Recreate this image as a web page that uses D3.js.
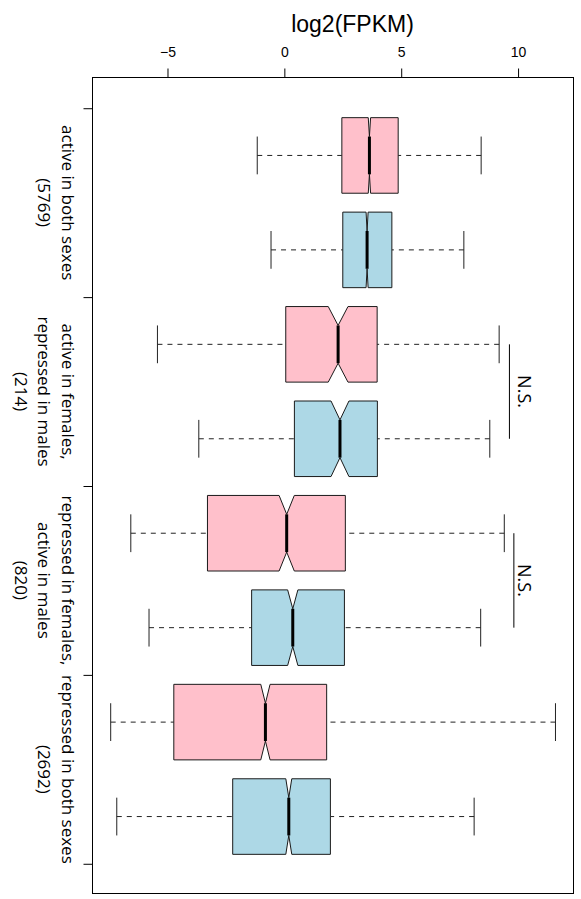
<!DOCTYPE html>
<html>
<head>
<meta charset="utf-8">
<script src="https://cdn.jsdelivr.net/npm/d3@7"></script>
<style>
  html, body { margin: 0; padding: 0; background: #fff; }
  svg { display: block; }
</style>
</head>
<body>
<script>
// Expression (log2 FPKM) of gene groups, female vs male, drawn as notched boxplots.
const groupLabels = [
  ["active in both sexes"],
  ["active in females,", "repressed in males"],
  ["repressed in females,", "active in males"],
  ["repressed in both sexes"]
];
const groupCounts = [5769, 214, 820, 2692];

// five-number summaries: lower whisker, Q1, median, Q3, upper whisker
const femaleLo  = [-1.16, -5.43, -6.57, -7.43];
const femaleQ1  = [ 2.46,  0.06, -3.29, -4.73];
const femaleMed = [ 3.64,  2.30,  0.10, -0.81];
const femaleQ3  = [ 4.87,  3.97,  2.61,  1.81];
const femaleHi  = [ 8.42,  9.19,  9.41, 11.60];

const maleLo  = [-0.57, -3.66, -5.79, -7.17];
const maleQ1  = [ 2.50,  0.43, -1.40, -2.21];
const maleMed = [ 3.54,  2.38,  0.36,  0.19];
const maleQ3  = [ 4.60,  3.98,  2.57,  1.97];
const maleHi  = [ 7.68,  8.79,  8.40,  8.12];

const sexColors = ["#FFC0CB", "#ADD8E6"];   // pink, lightblue
const xTicks = [-5, 0, 5, 10];

// "not significant" brackets: group index, bracket position, label position (log2 FPKM)
const nsGroups = [1, 2];
const nsLineX  = [9.63, 9.82];
const nsTextX  = [10.0, 10.0];

const W = 581, H = 899;
const plot = { left: 92, right: 573, top: 78, bottom: 894 };

const svg = d3.select("body").append("svg")
  .attr("width", W).attr("height", H)
  .attr("viewBox", `0 0 ${W} ${H}`);
svg.append("rect").attr("width", W).attr("height", H).attr("fill", "#fff");

// value axis runs horizontally, box positions (1..8) run down the page
const x = d3.scaleLinear().domain([-8.23, 12.35]).range([plot.left, plot.right]);
const y = d3.scaleLinear().domain([0.18, 8.82]).range([plot.top, plot.bottom]);

// assemble one record per box
const boxes = [];
groupCounts.forEach((n, g) => {
  boxes.push({ at: 2 * g + 1, n, fill: sexColors[0],
    lo: femaleLo[g], q1: femaleQ1[g], med: femaleMed[g], q3: femaleQ3[g], hi: femaleHi[g] });
  boxes.push({ at: 2 * g + 2, n, fill: sexColors[1],
    lo: maleLo[g], q1: maleQ1[g], med: maleMed[g], q3: maleQ3[g], hi: maleHi[g] });
});

const boxHalf = 0.4;     // half box thickness, in position units
const capHalf = 0.2;     // half whisker-cap length

const g = svg.append("g");

boxes.forEach(b => {
  const yc = y(b.at);
  const yTop = y(b.at - boxHalf), yBot = y(b.at + boxHalf);
  const waist = (yBot - yTop) / 4;
  const notch = 1.58 * (b.q3 - b.q1) / Math.sqrt(b.n);

  // whiskers, drawn from cap towards the box
  [[b.lo, b.q1], [b.hi, b.q3]].forEach(([from, to]) => {
    g.append("line")
      .attr("x1", x(from)).attr("x2", x(to))
      .attr("y1", yc).attr("y2", yc)
      .attr("stroke", "#222").attr("stroke-width", 1)
      .attr("stroke-dasharray", "5,5");
    g.append("line")
      .attr("x1", x(from)).attr("x2", x(from))
      .attr("y1", y(b.at - capHalf)).attr("y2", y(b.at + capHalf))
      .attr("stroke", "#222").attr("stroke-width", 1);
  });

  // notched box
  const pts = [
    [x(b.q1), yTop], [x(b.med - notch), yTop], [x(b.med), yTop + waist],
    [x(b.med + notch), yTop], [x(b.q3), yTop], [x(b.q3), yBot],
    [x(b.med + notch), yBot], [x(b.med), yBot - waist], [x(b.med - notch), yBot],
    [x(b.q1), yBot]
  ];
  g.append("path")
    .attr("d", d3.line()(pts) + "Z")
    .attr("fill", b.fill)
    .attr("stroke", "#1a1a1a").attr("stroke-width", 1);

  // median
  g.append("line")
    .attr("x1", x(b.med)).attr("x2", x(b.med))
    .attr("y1", yTop + waist).attr("y2", yBot - waist)
    .attr("stroke", "#000").attr("stroke-width", 3);
});

// plot frame
svg.append("rect")
  .attr("x", plot.left + 0.5).attr("y", plot.top - 0.5)
  .attr("width", plot.right - plot.left).attr("height", plot.bottom - plot.top)
  .attr("fill", "none").attr("stroke", "#000").attr("stroke-width", 1);

// top value axis
const xAxis = d3.axisTop(x).tickValues(xTicks).tickSize(9).tickPadding(12)
  .tickFormat(d3.format("d"));
const xa = svg.append("g").attr("transform", `translate(0,${plot.top - 0.5})`).call(xAxis);
xa.select(".domain").remove();
xa.selectAll(".tick line").attr("stroke", "#000");
xa.selectAll(".tick text")
  .attr("font-family", "'Liberation Sans', Arial, sans-serif")
  .attr("font-size", 14).attr("fill", "#000");

svg.append("text")
  .attr("x", 352.5).attr("y", 31.5)
  .attr("text-anchor", "middle")
  .attr("font-family", "'Liberation Sans', Arial, sans-serif")
  .attr("font-size", 23).attr("fill", "#000")
  .text("log2(FPKM)");

// left axis: group separators
const sepAt = d3.range(0, groupCounts.length + 1).map(i => 2 * i + 0.5);
const ya = svg.append("g").attr("transform", `translate(${plot.left + 0.5},0)`)
  .call(d3.axisLeft(y).tickValues(sepAt).tickSize(9).tickFormat(""));
ya.select(".domain").remove();
ya.selectAll(".tick line").attr("stroke", "#000");

// rotated group labels, first line nearest the axis
const labelFont = "'Open Sans', 'Noto Sans', sans-serif";
groupLabels.forEach((lines, gi) => {
  const allLines = lines.concat([`(${groupCounts[gi]})`]);
  const t = svg.append("g")
    .attr("transform", `translate(61.5,${y(2 * gi + 1.5)}) rotate(90)`);
  allLines.forEach((s, li) => {
    t.append("text")
      .attr("x", 0).attr("y", 23.5 * li)
      .attr("text-anchor", "middle")
      .attr("font-family", labelFont).attr("font-size", 17).attr("fill", "#000")
      .text(s);
  });
});

// N.S. brackets between female and male boxes
nsGroups.forEach((gi, k) => {
  const a = 2 * gi + 1, b = 2 * gi + 2;
  svg.append("line")
    .attr("x1", x(nsLineX[k])).attr("x2", x(nsLineX[k]))
    .attr("y1", y(a)).attr("y2", y(b))
    .attr("stroke", "#000").attr("stroke-width", 1);
  svg.append("text")
    .attr("transform", `translate(${x(nsTextX[k])},${y((a + b) / 2)}) rotate(90)`)
    .attr("text-anchor", "middle")
    .attr("font-family", labelFont).attr("font-size", 18).attr("fill", "#000")
    .text("N.S.");
});
</script>
</body>
</html>
